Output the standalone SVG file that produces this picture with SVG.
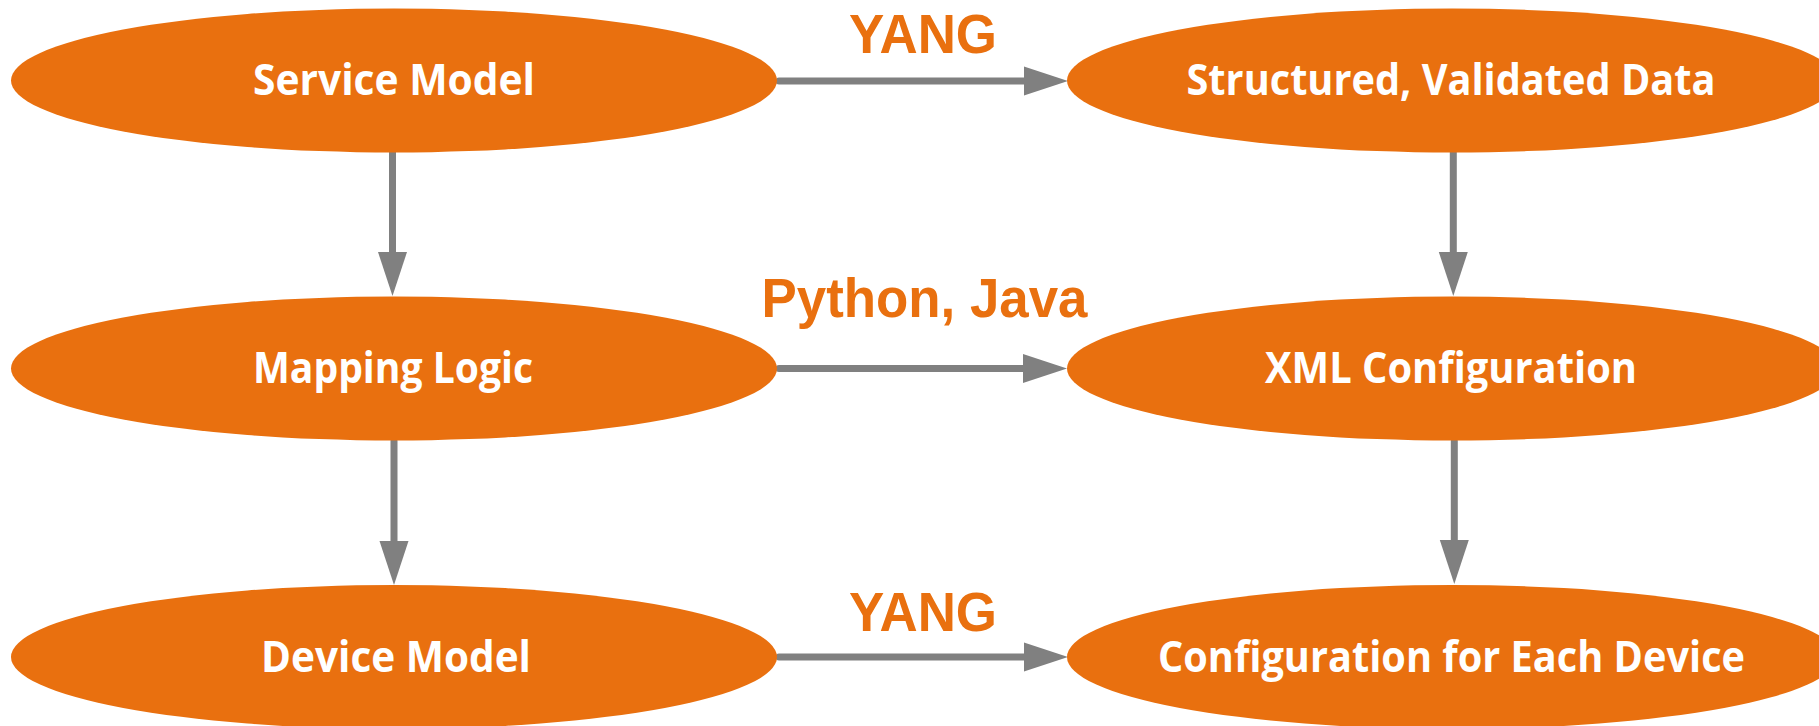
<svg xmlns="http://www.w3.org/2000/svg" width="1819" height="726" viewBox="0 0 1819 726">
  <style>
    .node { fill: #E9700F; }
    .ntext { fill: #FFFFFF; font-family: "Open Sans", "Noto Sans", "Liberation Sans", sans-serif; font-weight: 700; font-size: 43px; text-anchor: middle; }
    .ltext { fill: #E9700F; font-family: "Liberation Sans", "Open Sans", sans-serif; font-weight: 700; font-size: 55px; text-anchor: middle; }
    .conn { stroke: #808080; stroke-width: 7; stroke-linecap: round; fill: none; }
  </style>
  <defs>
    <marker id="arrow" markerUnits="userSpaceOnUse" viewBox="0 -15 44 30" markerWidth="44" markerHeight="30" refX="0" refY="0" orient="auto">
      <path d="M0,-14.5 L44,0 L0,14.5 Z" fill="#808080"/>
    </marker>
  </defs>
  <rect x="0" y="0" width="1819" height="726" fill="#FFFFFF"/>

  <g id="connectors">
    <line class="conn" x1="779" y1="81" x2="1024" y2="81" marker-end="url(#arrow)"/>
    <line class="conn" x1="779" y1="368.5" x2="1023" y2="368.5" marker-end="url(#arrow)"/>
    <line class="conn" x1="779" y1="657" x2="1024" y2="657" marker-end="url(#arrow)"/>
    <line class="conn" x1="392.5" y1="151.5" x2="392.5" y2="252" marker-end="url(#arrow)"/>
    <line class="conn" x1="394" y1="441" x2="394" y2="541" marker-end="url(#arrow)"/>
    <line class="conn" x1="1453.3" y1="151.5" x2="1453.3" y2="252" marker-end="url(#arrow)"/>
    <line class="conn" x1="1454.3" y1="441" x2="1454.3" y2="540" marker-end="url(#arrow)"/>
    <text class="ltext" x="923" y="52.7" textLength="148" lengthAdjust="spacingAndGlyphs">YANG</text>
    <text class="ltext" x="924.5" y="316.7" textLength="326" lengthAdjust="spacingAndGlyphs">Python, Java</text>
    <text class="ltext" x="923" y="630.7" textLength="148" lengthAdjust="spacingAndGlyphs">YANG</text>
  </g>

  <g id="service-model">
    <ellipse class="node" cx="394" cy="80.5" rx="383" ry="72"/>
    <text class="ntext" x="394" y="95" textLength="282" lengthAdjust="spacingAndGlyphs">Service Model</text>
  </g>
  <g id="structured-validated-data">
    <ellipse class="node" cx="1452" cy="80.5" rx="385" ry="72"/>
    <text class="ntext" x="1451" y="95" textLength="529" lengthAdjust="spacingAndGlyphs">Structured, Validated Data</text>
  </g>
  <g id="mapping-logic">
    <ellipse class="node" cx="394" cy="368.5" rx="383" ry="72"/>
    <text class="ntext" x="393" y="382.7" textLength="280" lengthAdjust="spacingAndGlyphs">Mapping Logic</text>
  </g>
  <g id="xml-configuration">
    <ellipse class="node" cx="1452" cy="368.5" rx="385" ry="72"/>
    <text class="ntext" x="1451" y="382.7" textLength="372" lengthAdjust="spacingAndGlyphs">XML Configuration</text>
  </g>
  <g id="device-model">
    <ellipse class="node" cx="394" cy="657" rx="383" ry="72"/>
    <text class="ntext" x="396" y="671.7" textLength="270" lengthAdjust="spacingAndGlyphs">Device Model</text>
  </g>
  <g id="configuration-for-each-device">
    <ellipse class="node" cx="1452" cy="657" rx="385" ry="72"/>
    <text class="ntext" x="1451.5" y="671.7" textLength="587" lengthAdjust="spacingAndGlyphs">Configuration for Each Device</text>
  </g>
</svg>
